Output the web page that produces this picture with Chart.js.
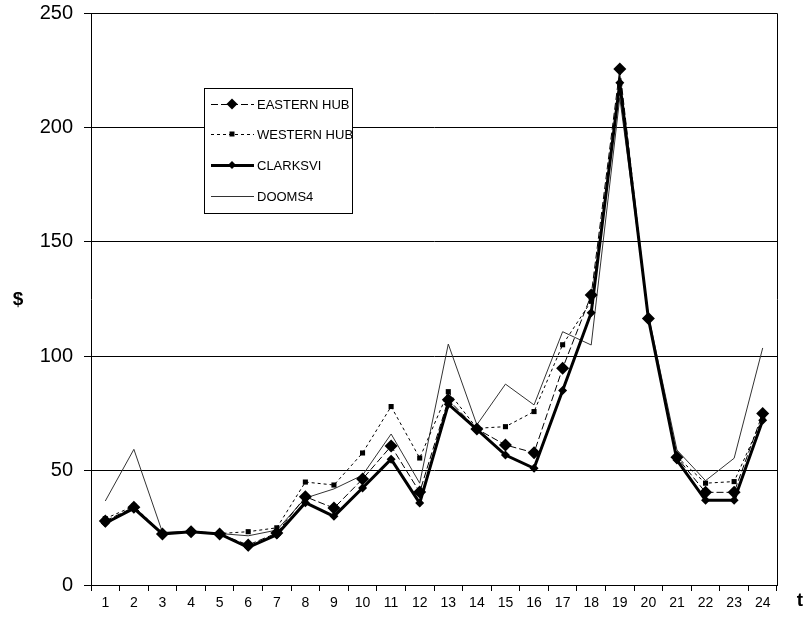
<!DOCTYPE html>
<html><head><meta charset="utf-8">
<script src="https://cdn.jsdelivr.net/npm/chart.js@4"></script>
<style>html,body{margin:0;padding:0;background:#fff}</style>
</head><body>
<canvas id="c" width="808" height="630"></canvas>
<script>
const hours = ['1','2','3','4','5','6','7','8','9','10','11','12','13','14','15','16','17','18','19','20','21','22','23','24'];
const seriesNames = ['EASTERN HUB','WESTERN HUB','CLARKSVI','DOOMS4'];
const easternHub = [28,34,22.3,23.3,22.3,17.5,22.7,38.6,33.6,46.3,60.7,40.6,81,68.2,61.2,57.8,94.7,126.7,225.5,116.5,55.8,40.5,40.5,75];
const westernHub = [29,34.5,22.5,23.5,22.5,23.3,25,45,43.7,57.7,78,55.5,84.5,68.5,69.2,75.8,105,124,219,117,56,44.5,45.2,73];
const clarksvi   = [27,33.5,22.3,23.3,22.3,16.5,22,36,30,42.4,55,35.8,79,68,56.8,51,85,119,219.5,116.5,54.6,37,37,72];
const dooms4     = [36.7,59.3,23,23.5,22.5,21.5,24,38,42,48,66,44.5,105.3,70,87.8,78.7,110.7,104.9,213,118,59,45.6,55.4,103.6];
const yTicks = [0,50,100,150,200,250];

const FONT = "'Liberation Sans', Arial, sans-serif";

const datasets = [
  {label: seriesNames[0], data: easternHub, borderColor:'#000', backgroundColor:'#000', borderWidth:1, borderDash:[7,3],
   pointStyle:'rectRot', pointRadius:6.5, pointBorderWidth:0, order:1},
  {label: seriesNames[1], data: westernHub, borderColor:'#000', backgroundColor:'#000', borderWidth:1, borderDash:[3,3],
   pointStyle:'rect', pointRadius:3.6, pointBorderWidth:0, order:2},
  {label: seriesNames[2], data: clarksvi, borderColor:'#000', backgroundColor:'#000', borderWidth:3,
   pointStyle:'rectRot', pointRadius:4.5, pointBorderWidth:0, order:0},
  {label: seriesNames[3], data: dooms4, borderColor:'#333', backgroundColor:'#333', borderWidth:1,
   pointRadius:0, order:3}
];

const framePlugin = {
  id:'frame',
  beforeDatasetsDraw(chart){
    const {ctx, chartArea:a} = chart;
    ctx.save();
    ctx.strokeStyle='#000'; ctx.lineWidth=1;
    ctx.beginPath();
    ctx.moveTo(Math.round(a.left)+0.5, Math.round(a.top)+0.5);
    ctx.lineTo(Math.round(a.right)+0.5, Math.round(a.top)+0.5);
    ctx.lineTo(Math.round(a.right)+0.5, Math.round(a.bottom)+0.5);
    ctx.stroke();
    ctx.restore();
  },
  afterDraw(chart){
    const ctx = chart.ctx;
    ctx.save();
    ctx.fillStyle='#000';
    ctx.font = "bold 19px " + FONT;
    ctx.textAlign='center'; ctx.textBaseline='middle';
    ctx.fillText('$', 18, 300);
    ctx.fillText('t', 800, 601);
    // legend
    const bx=204, by=88, bw=148, bh=125;
    ctx.fillStyle='#fff';
    ctx.fillRect(bx,by,bw,bh);
    ctx.strokeStyle='#000'; ctx.lineWidth=1;
    ctx.strokeRect(bx+0.5,by+0.5,bw,bh);
    const rows=[104,134,165,196];
    chart.data.datasets.forEach((ds,i)=>{
      const y=rows[i];
      ctx.save();
      ctx.strokeStyle=ds.borderColor; ctx.lineWidth=ds.borderWidth;
      ctx.setLineDash(ds.borderDash||[]);
      ctx.beginPath(); ctx.moveTo(211,y+0.5); ctx.lineTo(254,y+0.5); ctx.stroke();
      ctx.setLineDash([]);
      if (ds.pointRadius>0){
        const r = ds.pointStyle==='rectRot' ? (i===0?5.5:4) : 2.5;
        ctx.fillStyle='#000';
        ctx.beginPath();
        if (ds.pointStyle==='rectRot'){
          ctx.moveTo(232,y-r); ctx.lineTo(232+r,y); ctx.lineTo(232,y+r); ctx.lineTo(232-r,y); ctx.closePath();
        } else {
          ctx.rect(232-r,y-r,2*r,2*r);
        }
        ctx.fill();
      }
      ctx.restore();
      ctx.fillStyle='#000';
      ctx.font = "13px " + FONT;
      ctx.textAlign='left'; ctx.textBaseline='middle';
      ctx.fillText(ds.label, 257, y+1);
    });
    ctx.restore();
  }
};

new Chart(document.getElementById('c').getContext('2d'), {
  type:'line',
  data:{labels:hours, datasets},
  options:{
    responsive:false, animation:false,
    layout:{padding:{top:13,right:31,left:0,bottom:0}},
    elements:{line:{tension:0, fill:false}},
    plugins:{legend:{display:false}, tooltip:{enabled:false}},
    scales:{
      x:{
        offset:true,
        grid:{offset:true, drawOnChartArea:false, tickLength:6, color:'#000'},
        border:{color:'#000'},
        ticks:{font:{size:14,family:FONT}, color:'#000', padding:4, maxRotation:0, autoSkip:false},
        afterFit(s){ s.height=45; s.paddingLeft=0; s.paddingRight=0; }
      },
      y:{
        min:0, max:250,
        afterBuildTicks(s){ s.ticks = yTicks.map(v=>({value:v})); },
        grid:{color:'#000', tickLength:7},
        border:{color:'#000'},
        ticks:{font:{size:20,family:FONT}, color:'#000', padding:11},
        afterFit(s){ s.width=91; s.paddingTop=0; s.paddingBottom=0; }
      }
    }
  },
  plugins:[framePlugin]
});
</script>
</body></html>
